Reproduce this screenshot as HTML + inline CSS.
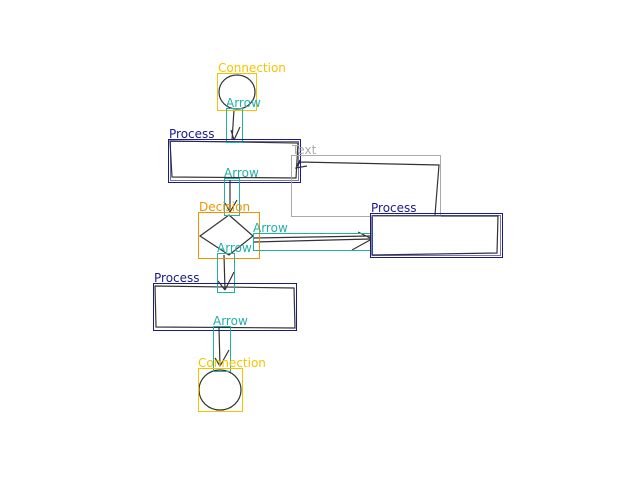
<!DOCTYPE html>
<html><head><style>
body{margin:0;background:#fff;width:640px;height:480px;overflow:hidden}
svg{display:block}
text{font-family:"DejaVu Sans","Liberation Sans",sans-serif;font-size:12px}
</style></head><body>
<svg width="640" height="480" viewBox="0 0 640 480">
<g fill="none" stroke="#333" stroke-width="1.2">
<ellipse cx="237" cy="92" rx="18" ry="17"/>
<path d="M234 110 L232 140 M231 130 L234 140 M240 127 L234 140"/>
<path d="M170 141 L298 143 L296 178 L172 177 Z"/>
<path d="M230 180 L230 212 M225 203 L230 212 M237 200 L230 212"/>
<path d="M229 215 L253 236 L229 255 L200 236 Z"/>
<path d="M254 238 L370 236 M254 242 L370 239 M358 232 L370 238 M352 250 L370 240"/>
<path d="M372 216 L498 216 L497 253 L372 255 Z"/>
<path d="M435 215 L439 165 L300 162 L296 168 M300 160 L296 168 L307 166"/>
<path d="M224 255 L225 290 M218 281 L225 290 M234 272 L225 290"/>
<path d="M155 286 L294 288 L295 328 L156 327 Z"/>
<path d="M219 328 L220 366 M215 358 L220 366 M229 350 L220 366"/>
<ellipse cx="220" cy="390" rx="21" ry="20"/>
</g>
<g fill="none" stroke-width="1">
<rect x="217.5" y="73.5" width="39" height="37" stroke="#f5c400"/>
<rect x="226.5" y="108.5" width="16" height="34" stroke="#20b0a8"/>
<rect x="168.5" y="139.5" width="132" height="43" stroke="#1a1a8c"/>
<rect x="170.5" y="141.5" width="128" height="39" stroke="#1a1a8c" stroke-width="0.6"/>
<rect x="291.5" y="155.5" width="149" height="61" stroke="#aaa"/>
<rect x="224.5" y="178.5" width="15" height="37" stroke="#20b0a8"/>
<rect x="198.5" y="212.5" width="61" height="46" stroke="#f59000"/>
<rect x="253.5" y="233.5" width="119" height="17" stroke="#20b0a8"/>
<rect x="370.5" y="213.5" width="132" height="44" stroke="#1a1a8c"/>
<rect x="372.5" y="215.5" width="128" height="40" stroke="#1a1a8c" stroke-width="0.6"/>
<rect x="217.5" y="253.5" width="17" height="39" stroke="#20b0a8"/>
<rect x="153.5" y="283.5" width="143" height="47" stroke="#1a1a8c"/>
<rect x="213.5" y="326.5" width="17" height="45" stroke="#20b0a8"/>
<rect x="198.5" y="368.5" width="44" height="43" stroke="#f5c400"/>
</g>
<text x="218" y="72" fill="#f5c400">Connection</text>
<text x="226" y="107" fill="#20b0a8">Arrow</text>
<text x="169" y="138" fill="#1a1a8c">Process</text>
<text x="292" y="154" fill="#aaa">Text</text>
<text x="224" y="177" fill="#20b0a8">Arrow</text>
<text x="199" y="211" fill="#f59000">Decision</text>
<text x="253" y="232" fill="#20b0a8">Arrow</text>
<text x="371" y="212" fill="#1a1a8c">Process</text>
<text x="217" y="252" fill="#20b0a8">Arrow</text>
<text x="154" y="282" fill="#1a1a8c">Process</text>
<text x="213" y="325" fill="#20b0a8">Arrow</text>
<text x="198" y="367" fill="#f5c400">Connection</text>
</svg>
</body></html>
